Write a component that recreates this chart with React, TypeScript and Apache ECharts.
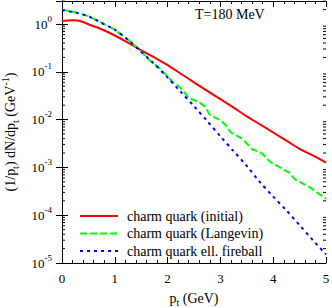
import React, { useEffect, useRef } from "react";
import * as echarts from "echarts";

const FONT = "Liberation Serif, Times New Roman, serif";

const ptRed = [0, 0.1, 0.2, 0.3, 0.4, 0.5, 0.75, 1.0, 1.25, 1.5, 1.75, 2.0, 2.25, 2.5, 2.75, 3.0, 3.25, 3.5, 3.75, 4.0, 4.25, 4.5, 4.75, 5.0];
const redInitial = [1.15, 1.19, 1.2, 1.18, 1.1, 0.99, 0.776, 0.575, 0.407, 0.282, 0.2, 0.138, 0.0912, 0.0603, 0.0398, 0.0269, 0.0178, 0.0117, 0.00794, 0.00537, 0.00363, 0.00245, 0.00178, 0.00126];

const ptBlue = [0, 0.25, 0.5, 0.75, 1.0, 1.25, 1.5, 1.75, 2.0, 2.25, 2.5, 2.75, 3.0, 3.25, 3.5, 3.75, 4.0, 4.25, 4.5, 4.75, 5.0];
const blueFireball = [1.95, 1.74, 1.45, 1.05, 0.759, 0.468, 0.263, 0.145, 0.0759, 0.038, 0.0191, 0.00933, 0.00447, 0.00219, 0.00107, 4.9e-4, 2.45e-4, 1.26e-4, 6.17e-5, 3.02e-5, 1.51e-5];

const ptGreen = [0, 0.25, 0.5, 0.75, 1.0, 1.25, 1.5, 1.6, 1.7, 1.8, 1.9, 2.0, 2.1, 2.2, 2.3, 2.4, 2.5, 2.6, 2.7, 2.8, 2.9, 3.0, 3.1, 3.2, 3.3, 3.4, 3.5, 3.6, 3.7, 3.8, 3.9, 4.0, 4.1, 4.2, 4.3, 4.4, 4.5, 4.6, 4.7, 4.8, 4.9, 5.0];
const greenLangevin = [2.0, 1.76, 1.46, 1.06, 0.759, 0.468, 0.269, 0.2, 0.158, 0.132, 0.105, 0.0794, 0.0603, 0.0513, 0.0398, 0.0282, 0.0257, 0.0229, 0.0191, 0.0126, 0.011, 0.00977, 0.00759, 0.00537, 0.00468, 0.00407, 0.00316, 0.0024, 0.00219, 0.00191, 0.00145, 0.00117, 0.00105, 8.9e-4, 7.9e-4, 5.75e-4, 5.0e-4, 4.37e-4, 3.8e-4, 3.16e-4, 2.63e-4, 2.19e-4];

const seriesNames = ["charm quark (initial)", "charm quark (Langevin)", "charm quark ell. fireball"];
const seriesColors = ["#ff0000", "#00ff00", "#0000ff"];
const seriesDash: (number[] | null)[] = [null, [7, 3], [3, 4]];
const xTicks = [0, 1, 2, 3, 4, 5];
const yDecades = [-5, -4, -3, -2, -1, 0];
const yMin = 1e-5;
const yMax = 3.03;
const annotation = "T=180 MeV";

const minorY: number[] = [];
yDecades.forEach((e) => {
  for (let k = 2; k <= 9; k++) {
    const v = k * Math.pow(10, e);
    if (v < yMax) minorY.push(v);
  }
});

const zip = (xs: number[], ys: number[]) => xs.map((x, i) => [x, ys[i]]);

export default function App() {
  const ref = useRef<HTMLDivElement>(null);
  useEffect(() => {
    if (!ref.current) return;
    const chart = echarts.init(ref.current, undefined, { renderer: "svg" });
    const axisLine = { show: true, lineStyle: { color: "#000", width: 1 } };
    const labelRich = {
      b: { fontFamily: FONT, fontSize: 13, lineHeight: 20, color: "#000" },
      s: { fontFamily: FONT, fontSize: 9, lineHeight: 9, color: "#000", verticalAlign: "top" },
    };
    const yFormatter = (v: number) => {
      const l = Math.log10(v);
      const e = Math.round(l);
      if (Math.abs(l - e) > 0.01 || !yDecades.includes(e)) return "";
      return "{b|10}{s|" + e + "}";
    };
    const xMin = xTicks[0];
    const xMax = xTicks[xTicks.length - 1];
    const baseX = {
      type: "value",
      min: xMin,
      max: xMax,
      interval: 1,
      axisLine,
      axisTick: { inside: true, length: 6, lineStyle: { color: "#000" } },
      minorTick: { show: true, splitNumber: 5, length: 3, lineStyle: { color: "#000" } },
      splitLine: { show: false },
    };
    const baseY = {
      type: "log",
      logBase: 10,
      min: yMin,
      max: yMax,
      axisLine,
      axisTick: { inside: true, length: 6, lineStyle: { color: "#000" } },
      splitLine: { show: false },
    };
    const legendX = 80;
    const legendY0 = 216;
    const legendDy = 17.5;
    const legendGraphics: any[] = [];
    seriesNames.forEach((name, i) => {
      const y = legendY0 + i * legendDy;
      legendGraphics.push({
        type: "line",
        shape: { x1: legendX, y1: y, x2: legendX + 38, y2: y },
        style: { stroke: seriesColors[i], lineWidth: 2, lineDash: seriesDash[i] || undefined },
        z: 10,
      });
      legendGraphics.push({
        type: "text",
        x: legendX + 47,
        y: y,
        style: { text: name, font: "14px " + FONT, fill: "#000", textVerticalAlign: "middle", verticalAlign: "middle" },
        z: 10,
      });
    });
    chart.setOption({
      animation: false,
      textStyle: { fontFamily: FONT },
      grid: { left: 62, right: 6, top: 1, bottom: 45, containLabel: false, outerBoundsMode: "none" },
      xAxis: [
        {
          ...baseX,
          position: "bottom",
          axisLabel: { fontFamily: FONT, fontSize: 13, color: "#000", margin: 9 },
          name: "{n|p}{sub|t}{n| (GeV)}",
          nameLocation: "middle",
          nameGap: 26,
          nameTextStyle: {
            rich: {
              n: { fontFamily: FONT, fontSize: 14, lineHeight: 18, color: "#000" },
              sub: { fontFamily: FONT, fontSize: 10, lineHeight: 10, color: "#000", verticalAlign: "bottom" },
            },
          },
        },
        { ...baseX, position: "top", axisLabel: { show: false } },
      ],
      yAxis: [
        {
          ...baseY,
          position: "left",
          axisLabel: { formatter: yFormatter, rich: labelRich, margin: 10 },
          name: "{n|(1/p}{sub|t}{n|) dN/dp}{sub|t}{n| (GeV}{sup|-1}{n|)}",
          nameLocation: "middle",
          nameGap: 39,
          nameTextStyle: {
            rich: {
              n: { fontFamily: FONT, fontSize: 14, lineHeight: 20, color: "#000" },
              sub: { fontFamily: FONT, fontSize: 10, lineHeight: 10, color: "#000", verticalAlign: "bottom" },
              sup: { fontFamily: FONT, fontSize: 10, lineHeight: 10, color: "#000", verticalAlign: "top" },
            },
          },
        },
        { ...baseY, position: "right", axisLabel: { show: false } },
      ],
      graphic: [
        {
          type: "text",
          left: 195,
          top: 7,
          style: { text: annotation, font: "14px " + FONT, fill: "#000" },
        },
        ...legendGraphics,
      ],
      series: [
        {
          name: seriesNames[0],
          type: "line",
          data: zip(ptRed, redInitial),
          symbol: "none",
          smooth: 0.4,
          lineStyle: { color: seriesColors[0], width: 2 },
          z: 3,
        },
        {
          name: seriesNames[1],
          type: "line",
          data: zip(ptGreen, greenLangevin),
          symbol: "none",
          lineStyle: { color: seriesColors[1], width: 2, type: seriesDash[1] },
          z: 4,
        },
        {
          name: seriesNames[2],
          type: "line",
          data: zip(ptBlue, blueFireball),
          symbol: "none",
          smooth: 0.3,
          lineStyle: { color: seriesColors[2], width: 2, type: seriesDash[2] },
          z: 5,
        },
        {
          name: "minorTicks",
          type: "custom",
          silent: true,
          data: minorY.map((v) => [xMin, v]),
          renderItem: (_p: any, api: any) => {
            const v = api.value(1);
            const pl = api.coord([xMin, v]);
            const pr = api.coord([xMax, v]);
            return {
              type: "group",
              children: [
                { type: "line", shape: { x1: pl[0], y1: pl[1], x2: pl[0] + 3, y2: pl[1] }, style: { stroke: "#000", lineWidth: 1 } },
                { type: "line", shape: { x1: pr[0] - 3, y1: pr[1], x2: pr[0], y2: pr[1] }, style: { stroke: "#000", lineWidth: 1 } },
              ],
            };
          },
          z: 2,
        },
      ],
    });
    return () => chart.dispose();
  }, []);
  return <div ref={ref} style={{ width: 332, height: 308, position: "absolute", left: 0, top: 0 }} />;
}
